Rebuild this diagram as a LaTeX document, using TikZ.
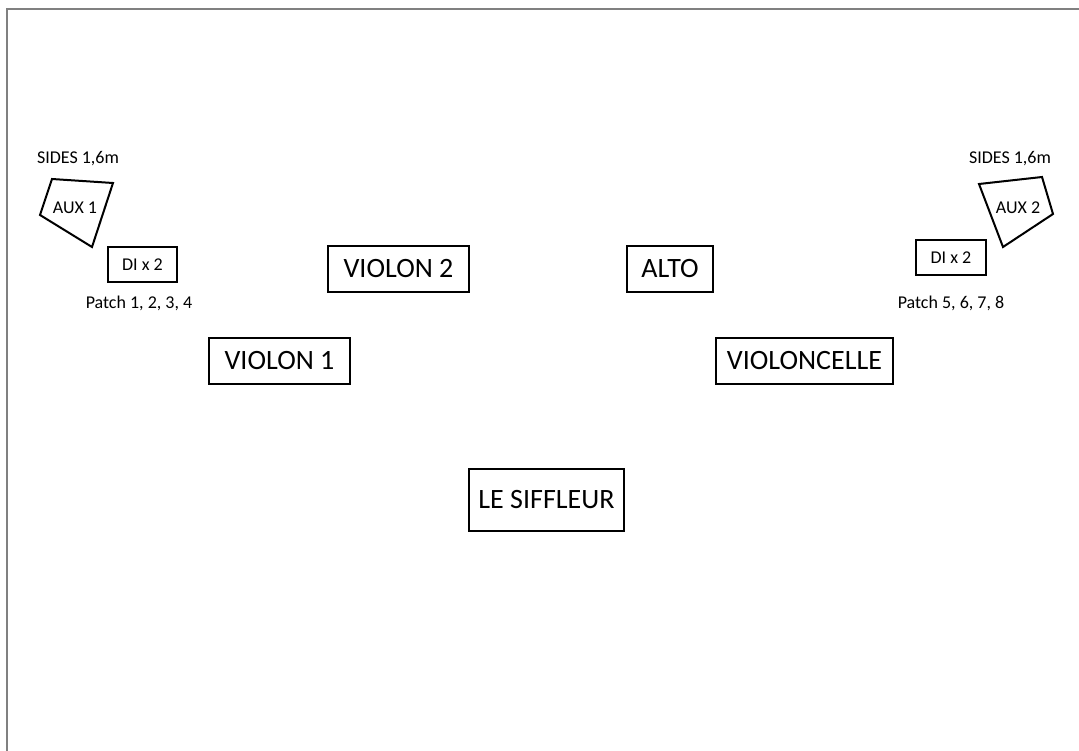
\documentclass[tikz,border=0pt]{standalone}
\usepackage{fontspec}
\setmainfont{Carlito}
\begin{document}
\begin{tikzpicture}[x=1pt,y=-1pt,
  box/.style={draw,line width=2pt,inner sep=0pt,font=\fontsize{28}{31}\selectfont},
  smallbox/.style={draw,line width=2pt,inner sep=0pt,font=\fontsize{18}{20}\selectfont},
  lbl/.style={inner sep=0pt,font=\fontsize{18}{20}\selectfont},
  spk/.style={draw,line width=2pt,line join=miter}]
\useasboundingbox (0,0) rectangle (1079,751);
\fill[white] (0,0) rectangle (1079,751);
% page border
\draw[gray,line width=2.5pt] (7,751) coordinate (bl) -- (7,9) coordinate (tl) -- (1079,9) coordinate (tr);
% performers
\node[box,minimum width=141pt,minimum height=46pt] (v2) at (398.5,269) {VIOLON 2};
\node[box,minimum width=86pt,minimum height=46pt] (alto) at (670,269) {ALTO};
\node[box,minimum width=141pt,minimum height=46pt] (v1) at (279.5,361) {VIOLON 1};
\node[box,minimum width=177pt,minimum height=46pt] (vc) at (804.5,361) {VIOLONCELLE};
\node[box,minimum width=155pt,minimum height=62pt] (sif) at (546.5,500) {LE SIFFLEUR};
% left side
\node[lbl] (sidesL) at (78,159) {SIDES 1,6m};
\draw[spk] (52,179) -- (113,183) -- (92,247) -- (40,215) -- cycle;
\node[lbl] (auxL) at (75,208) {AUX 1};
\node[smallbox,minimum width=69pt,minimum height=35pt] (diL) at (142.5,264.5) {DI x 2};
\node[lbl] (patchL) at (139,303) {Patch 1, 2, 3, 4};
% right side
\node[lbl] (sidesR) at (1010,159) {SIDES 1,6m};
\draw[spk] (979,184) -- (1042,177) -- (1053,214) -- (1003,247) -- cycle;
\node[lbl] (auxR) at (1018,208) {AUX 2};
\node[smallbox,minimum width=70pt,minimum height=35pt] (diR) at (951,257.5) {DI x 2};
\node[lbl] (patchR) at (951,303) {Patch 5, 6, 7, 8};
\end{tikzpicture}
\end{document}
